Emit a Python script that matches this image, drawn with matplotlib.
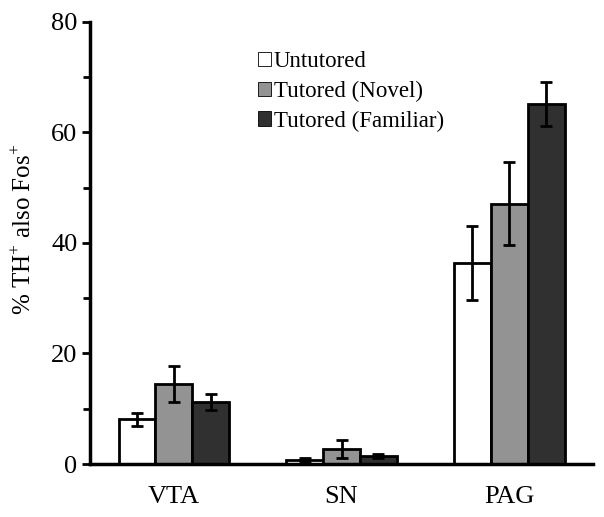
import numpy as np
import matplotlib
matplotlib.use("Agg")
import matplotlib.pyplot as plt
from matplotlib.ticker import MultipleLocator

plt.rcParams['font.family'] = ['Liberation Serif', 'DejaVu Serif']
plt.rcParams['mathtext.fontset'] = 'custom'
plt.rcParams['mathtext.rm'] = 'Liberation Serif'

regions = ["VTA", "SN", "PAG"]
groups = ["Untutored", "Tutored (Novel)", "Tutored (Familiar)"]
colors = ["white", "#939393", "#303030"]

means = {
  "Untutored":          [8.1, 0.7, 36.4],
  "Tutored (Novel)":    [14.5, 2.7, 47.1],
  "Tutored (Familiar)": [11.2, 1.45, 65.2],
}
errs = {
  "Untutored":          [1.2, 0.3, 6.7],
  "Tutored (Novel)":    [3.2, 1.7, 7.5],
  "Tutored (Familiar)": [1.4, 0.4, 4.0],
}

fig = plt.figure(figsize=(6.04, 5.17), dpi=100)
ax = fig.add_axes([0.149, 0.1025, 0.833, 0.855])

x = np.arange(len(regions))
width = 0.22
for i, g in enumerate(groups):
  xpos = x + (i - 1) * width
  ax.bar(xpos, means[g], width, color=colors[i], edgecolor="black",
         linewidth=2, label=g, zorder=2)
  ax.errorbar(xpos, means[g], yerr=errs[g], fmt="none", ecolor="black",
              elinewidth=2, capsize=4.3, capthick=2, zorder=3)

ax.set_xlim(-0.5, 2.5)
ax.set_ylim(0, 80)
ax.set_xticks(x)
ax.set_xticklabels(regions, fontsize=19)
ax.tick_params(axis="x", length=0, pad=16)
ax.yaxis.set_major_locator(MultipleLocator(20))
ax.yaxis.set_minor_locator(MultipleLocator(10))
ax.tick_params(axis="y", which="major", length=6, width=2, labelsize=19, pad=3)
ax.tick_params(axis="y", which="minor", length=5, width=2)

for s in ["top", "right"]:
  ax.spines[s].set_visible(False)
ax.spines["left"].set_linewidth(2.5)
ax.spines["bottom"].set_linewidth(2.5)

ax.set_ylabel(r"% TH$^{+}$ also Fos$^{+}$", fontsize=18)
ax.yaxis.set_label_coords(-0.107, 0.53)

leg = ax.legend(loc="upper left", bbox_to_anchor=(0.315, 0.955), frameon=False,
                fontsize=16.5, handlelength=0.6, handleheight=0.6,
                handletextpad=0.1, labelspacing=0.38, borderaxespad=0)
for h in leg.legend_handles:
  h.set_linewidth(0.6)

fig.savefig("out.png", dpi=100)
